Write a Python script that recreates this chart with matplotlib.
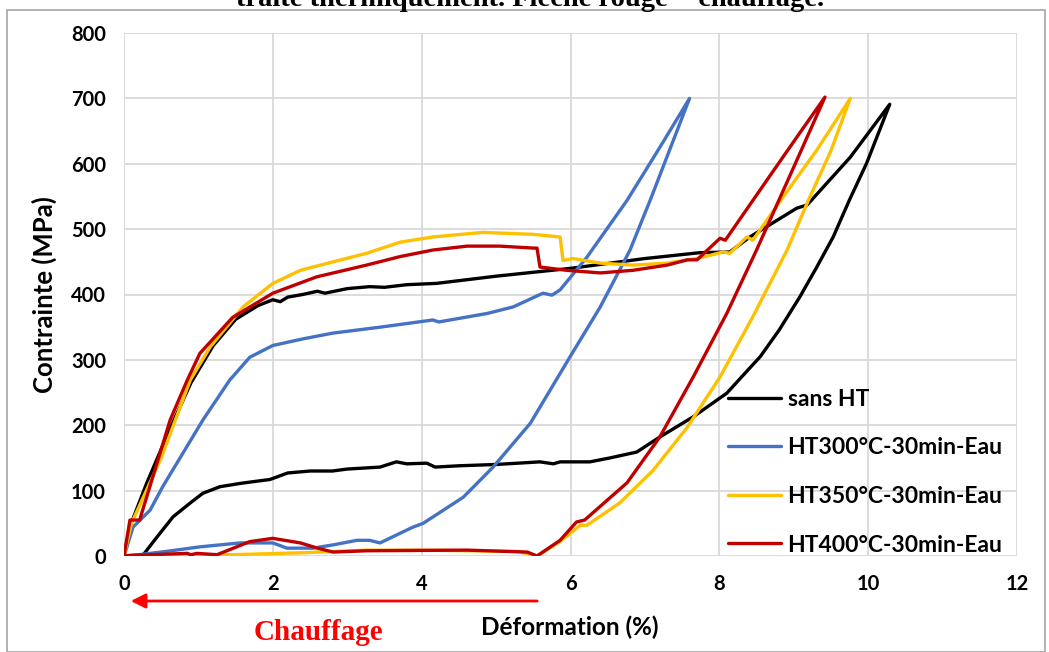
import matplotlib
matplotlib.use("Agg")
import matplotlib.pyplot as plt
from matplotlib.patches import Rectangle, FancyArrowPatch

# Strain (%) / stress (MPa) cycles: loading, unloading, then heating back to zero strain
sans_ht_x = [0, 0.08, 0.3, 0.6, 0.9, 1.2, 1.5, 1.8, 2.0, 2.1, 2.2, 2.4, 2.6, 2.7, 3.0, 3.3, 3.5,
             3.8, 4.2, 5.0, 6.0, 7.0, 7.74, 8.14, 8.41, 9.04, 9.18, 9.76, 10.29,
             9.98, 9.75, 9.53, 9.3, 9.08, 8.8, 8.55, 8.3, 8.1, 7.65, 7.2, 6.89, 6.53, 6.26,
             5.86, 5.77, 5.59, 5.0, 4.5, 4.18, 4.07, 3.8, 3.66, 3.44, 3.0, 2.8, 2.5, 2.2,
             1.96, 1.69, 1.56, 1.29, 1.06, 0.9, 0.66, 0.45, 0.26]
sans_ht_y = [0, 45, 110, 190, 265, 322, 362, 383, 392, 389, 396, 400, 405, 402, 409, 412, 411,
             415, 417, 428, 440, 455, 464, 465, 488, 532, 537, 610, 691,
             601, 545, 488, 440, 396, 345, 305, 274, 249, 213, 182, 159, 150, 144,
             144, 141, 144, 140, 138, 136, 142, 141, 144, 136, 133, 130, 130, 127,
             117, 113, 111, 106, 96, 82, 60, 30, 2]

ht300_x = [0, 0.04, 0.12, 0.35, 0.52, 1.06, 1.42, 1.69, 2.0, 2.4, 2.81, 3.44, 4.15, 4.23, 4.88,
           5.23, 5.63, 5.75, 5.86, 6.22, 6.76, 7.2, 7.6,
           7.07, 6.8, 6.4, 5.99, 5.46, 4.96, 4.56, 4.02, 3.88, 3.44, 3.3, 3.13, 2.81, 2.54,
           2.19, 2.0, 1.56, 1.02, 0.57, 0.2, 0]
ht300_y = [0, 14, 44, 70, 106, 208, 269, 304, 322, 332, 341, 350, 361, 358, 371,
           381, 402, 399, 407, 457, 544, 625, 700,
           544, 468, 381, 304, 203, 136, 90, 50, 44, 20, 24, 24, 17, 12,
           12, 20, 20, 14, 7, 2, 0]

ht350_x = [0, 0.1, 0.5, 0.89, 1.16, 1.6, 2.0, 2.37, 2.81, 3.26, 3.71, 4.15, 4.82, 5.5, 5.86,
           5.9, 6.03, 6.4, 6.84, 7.3, 7.74, 8.05, 8.14, 8.37, 8.45, 8.95, 9.31, 9.76,
           9.5, 9.2, 8.91, 8.45, 8.01, 7.57, 7.11, 6.66, 6.22, 6.13, 5.86, 5.55,
           5.3, 4.0, 3.26, 2.4, 1.46, 0.8, 0]
ht350_y = [0, 50, 150, 269, 320, 381, 417, 437, 450, 463, 480, 488, 495, 492, 488,
           452, 455, 448, 445, 448, 456, 465, 463, 488, 483, 564, 621, 700,
           620, 545, 468, 366, 274, 197, 131, 81, 47, 47, 22, 0,
           7, 9, 9, 5, 2, 1, 0]

ht400_x = [0, 0.08, 0.21, 0.62, 0.85, 1.02, 1.46, 2.0, 2.59, 3.26, 3.71, 4.15, 4.61, 5.05,
           5.5, 5.55, 5.59, 5.95, 6.4, 6.84, 7.3, 7.57, 7.7, 8.01, 8.08, 8.64, 9.08, 9.42,
           9.02, 8.5, 8.1, 7.65, 7.2, 6.76, 6.3, 6.19, 6.08, 5.86, 5.55,
           5.42, 4.61, 3.26, 2.81, 2.6, 2.37, 2.0, 1.69, 1.25, 0.98, 0.9, 0.85, 0.1, 0]
ht400_y = [0, 55, 55, 208, 269, 310, 365, 402, 427, 445, 458, 468, 474, 474,
           471, 471, 442, 437, 433, 437, 445, 453, 453, 486, 483, 575, 647, 702,
           600, 468, 371, 274, 182, 112, 66, 55, 52, 24, 0,
           6, 9, 8, 6, 12, 20, 27, 22, 2, 4, 2, 4, 1, 0]

series = [
    ("sans HT", sans_ht_x, sans_ht_y, "#000000"),
    ("HT300°C-30min-Eau", ht300_x, ht300_y, "#4472C4"),
    ("HT350°C-30min-Eau", ht350_x, ht350_y, "#FFC000"),
    ("HT400°C-30min-Eau", ht400_x, ht400_y, "#C00000"),
]

x_ticks = [0, 2, 4, 6, 8, 10, 12]
y_ticks = [0, 100, 200, 300, 400, 500, 600, 700, 800]

plt.rcParams["font.family"] = ["Lato", "DejaVu Sans"]

W, H = 1049, 652
fig = plt.figure(figsize=(W / 100, H / 100), dpi=100)
ax = fig.add_axes([124 / W, 1 - 556 / H, (1017 - 124) / W, (556 - 33) / H])

for label, xs, ys, color in series:
    ax.plot(xs, ys, color=color, lw=2.4, label=label, solid_joinstyle="round",
            solid_capstyle="round", zorder=3)

ax.set_xlim(0, 12)
ax.set_ylim(0, 800)
ax.set_xticks(x_ticks)
ax.set_yticks(y_ticks)
ax.grid(True, color="#d9d9d9", lw=1.3, zorder=0)
for s in ax.spines.values():
    s.set_visible(False)
ax.tick_params(length=0, labelsize=14.5, pad=13)
for t in ax.get_xticklabels() + ax.get_yticklabels():
    t.set_fontweight("bold")
ax.set_ylabel("Contrainte (MPa)", fontsize=18.5, fontweight="bold", labelpad=10)

leg = fig.legend(*ax.get_legend_handles_labels(), loc="upper left",
                 bbox_to_anchor=(728 / W, 1 - 389 / H), frameon=False,
                 handlelength=2.3, handletextpad=0.3, labelspacing=1.2,
                 borderpad=0, borderaxespad=0,
                 prop={"weight": "bold", "size": 16.5})

fig.text(570 / W, 1 - 627 / H, "Déformation (%)", ha="center", va="center",
         fontsize=17.5, fontweight="bold")
fig.text(318 / W, 1 - 632 / H, "Chauffage", ha="center", va="center", color="#ff0000",
         fontsize=21, fontweight="bold", family="Liberation Serif")
fig.patches.append(FancyArrowPatch((540 / W, 1 - 601 / H), (128 / W, 1 - 601 / H),
                                   transform=fig.transFigure, arrowstyle="-|>",
                                   mutation_scale=22, color="#ff0000", lw=2))
fig.text(530 / W, 1 - 6 / H, "traité thermiquement. Flèche rouge = chauffage.",
         ha="center", va="baseline", fontsize=20.5, fontweight="bold",
         family="Liberation Serif")
fig.patches.append(Rectangle((7 / W, 0), (1045 - 7) / W, 1 - 10 / H,
                             transform=fig.transFigure, fill=False,
                             edgecolor="#a6a6a6", lw=1.2))

fig.savefig("out.png", dpi=100)
